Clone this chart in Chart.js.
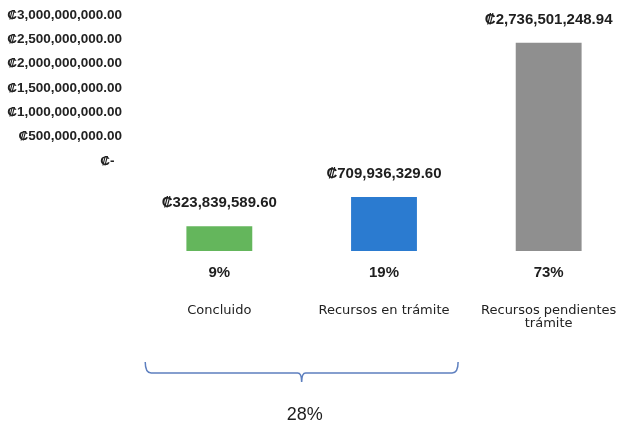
<!DOCTYPE html>
<html>
<head>
<meta charset="utf-8">
<script src="https://cdn.jsdelivr.net/npm/chart.js@4.4.0/dist/chart.umd.min.js"></script>
<style>
  html, body { margin: 0; padding: 0; background: #fff; }
</style>
</head>
<body>
<canvas id="chart" width="636" height="427"></canvas>
<script>
const categories = ['Concluido', 'Recursos en trámite', ['Recursos pendientes', 'trámite']];
const amounts = [323839589.60, 709936329.60, 2736501248.94];
const shares = [9, 19, 73];
const barColors = ['#64b65c', '#2b7bd0', '#8f8f8f'];
const axisTicks = [0, 500000000, 1000000000, 1500000000, 2000000000, 2500000000, 3000000000];
const groupShare = 28;      // Concluido + Recursos en trámite
const groupSpan = [0, 1];   // categories covered by the brace

const money = v => '₡' + v.toLocaleString('en-US', { minimumFractionDigits: 2, maximumFractionDigits: 2 });

// no automatic label padding around the plot area
const noPad = s => { s.paddingTop = s.paddingBottom = s.paddingLeft = s.paddingRight = 0; };

// value labels, percentages, brace under the first two bars
const labelPlugin = {
  id: 'labels',
  afterDatasetsDraw(chart) {
    const ctx = chart.ctx;
    const bars = chart.getDatasetMeta(0).data;
    ctx.save();
    ctx.fillStyle = '#1e1e1e';
    ctx.textAlign = 'center';
    ctx.textBaseline = 'middle';
    bars.forEach((bar, i) => {
      ctx.font = 'bold 15px "Liberation Sans", sans-serif';
      ctx.fillText(money(amounts[i]), bar.x, bar.y - 23);
      ctx.fillText(shares[i] + '%', bar.x, bar.base + 22);
    });

    const x = chart.scales.x;
    const half = (x.getPixelForValue(1) - x.getPixelForValue(0)) / 2;
    const left = x.getPixelForValue(groupSpan[0]) - half * 0.9;
    const right = x.getPixelForValue(groupSpan[1]) + half * 0.9;
    const mid = (left + right) / 2;
    const top = chart.chartArea.bottom + 111;
    const line = top + 11;

    ctx.strokeStyle = '#5d7fbf';
    ctx.lineWidth = 1.5;
    ctx.beginPath();
    ctx.moveTo(left, top);
    ctx.quadraticCurveTo(left, line, left + 6, line);
    ctx.lineTo(mid - 4, line);
    ctx.quadraticCurveTo(mid, line, mid, line + 9);
    ctx.quadraticCurveTo(mid, line, mid + 4, line);
    ctx.lineTo(right - 6, line);
    ctx.quadraticCurveTo(right, line, right, top);
    ctx.stroke();

    ctx.font = '18px "Liberation Sans", sans-serif';
    ctx.fillText(groupShare + '%', mid + 3, line + 42);
    ctx.restore();
  }
};

new Chart(document.getElementById('chart'), {
  type: 'bar',
  data: {
    labels: categories,
    datasets: [{
      data: amounts,
      backgroundColor: barColors,
      borderWidth: 0,
      barPercentage: 0.4,
      categoryPercentage: 1,
      yAxisID: 'y'
    }]
  },
  options: {
    responsive: false,
    animation: false,
    events: [],
    layout: { padding: { top: 15, right: 5, left: 0, bottom: 0 } },
    plugins: { legend: { display: false }, tooltip: { enabled: false } },
    scales: {
      x: {
        grid: { display: false, drawTicks: false },
        border: { display: false },
        ticks: {
          padding: 53,
          color: '#222',
          maxRotation: 0,
          autoSkip: false,
          font: { family: 'DejaVu Sans', size: 13, lineHeight: 1.0 }
        },
        afterFit: s => { s.height = 176; noPad(s); }
      },
      y: {
        display: false,
        min: 0,
        max: 3100000000
      },
      yTicks: {
        position: 'left',
        min: -1849000000,
        max: 3000000000,
        grid: { display: false, drawTicks: false },
        border: { display: false },
        afterBuildTicks: s => { s.ticks = axisTicks.map(v => ({ value: v })); },
        afterFit: s => { s.width = 137; noPad(s); },
        ticks: {
          padding: 15,
          color: '#222',
          font: { family: 'Liberation Sans', size: 13.5, weight: 'bold' },
          callback: v => v === 0 ? '₡-  ' : money(v)
        }
      }
    }
  },
  plugins: [labelPlugin]
});
</script>
</body>
</html>
